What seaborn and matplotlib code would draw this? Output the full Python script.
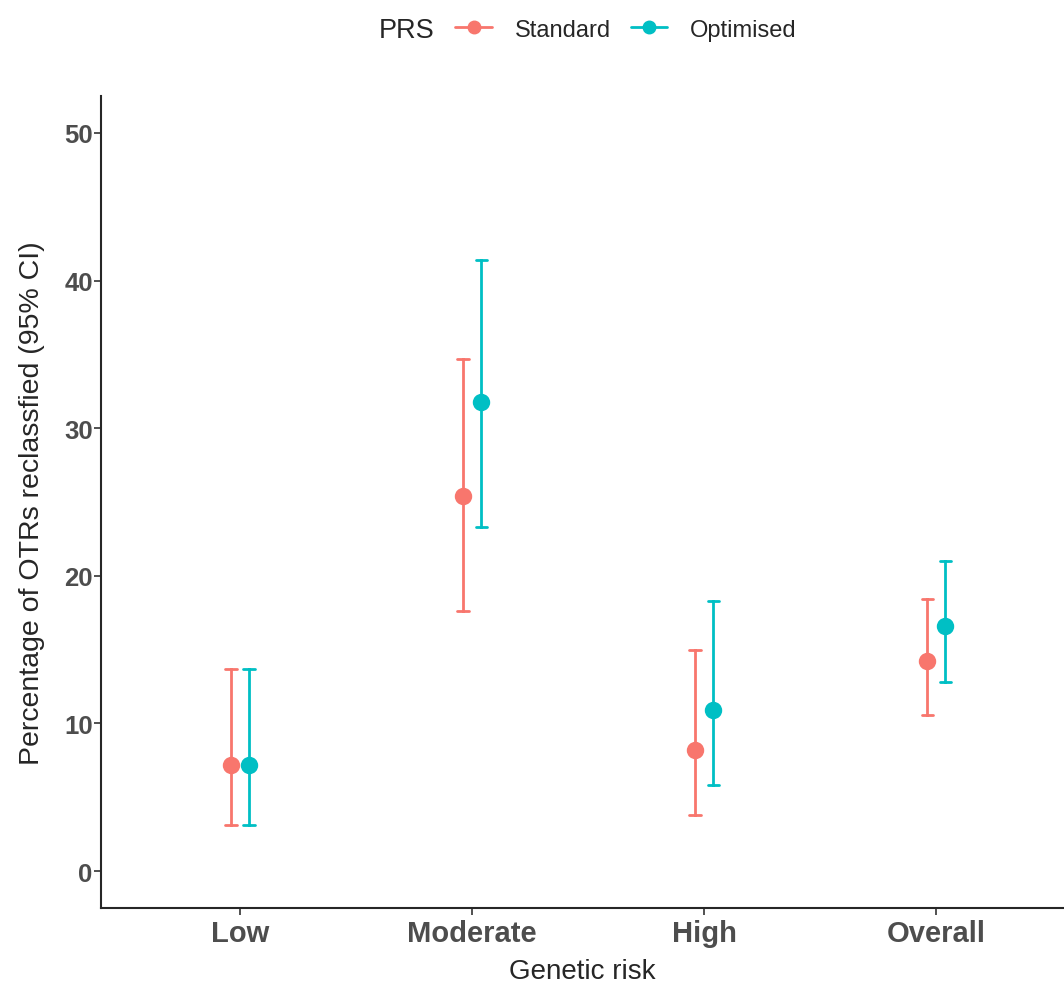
import pandas as pd
import numpy as np
import seaborn as sns
import matplotlib.pyplot as plt
from matplotlib.lines import Line2D

sns.set_style("ticks")
plt.rcParams['font.family'] = ['Liberation Sans', 'DejaVu Sans']

# values
risk = ["Low", "Moderate", "High", "Overall"]
prs = ["Standard", "Optimised"]
std_est = [7.2, 25.4, 8.2, 14.2]
std_lo = [3.1, 17.6, 3.8, 10.6]
std_hi = [13.7, 34.7, 15.0, 18.4]
opt_est = [7.2, 31.8, 10.9, 16.6]
opt_lo = [3.1, 23.3, 5.8, 12.8]
opt_hi = [13.7, 41.4, 18.3, 21.0]

# long table: lo / estimate / hi per group, median = estimate, 100% interval = CI
rows = []
for name, est, lo, hi in [("Standard", std_est, std_lo, std_hi),
                          ("Optimised", opt_est, opt_lo, opt_hi)]:
    for r, e, l, h in zip(risk, est, lo, hi):
        for v in (l, e, h):
            rows.append({"risk": r, "PRS": name, "pct": v})
df = pd.DataFrame(rows)

palette = {"Standard": "#F8766D", "Optimised": "#00BFC4"}

fig = plt.figure(figsize=(10.64, 9.87), dpi=100)
ax = fig.add_axes([0.0949, 0.079, 0.9051, 0.8227])

sns.pointplot(data=df, x="risk", y="pct", hue="PRS", order=risk, hue_order=prs,
              palette=palette, estimator="median", errorbar=("pi", 100),
              dodge=0.078, linestyle="none", markers="o", markersize=10.5,
              capsize=0.05, err_kws={"linewidth": 2}, ax=ax, legend=False)

ax.set_xlim(-0.6, 3.55)
ax.set_ylim(-2.5, 52.5)
ax.set_yticks([0, 10, 20, 30, 40, 50])

ax.set_xlabel("Genetic risk", fontsize=20, labelpad=8)
ax.set_ylabel("Percentage of OTRs reclassfied (95% CI)", fontsize=20.5, labelpad=14)
ax.tick_params(axis='both', colors='#333333', labelcolor='#4D4D4D',
               length=5, width=1.2, pad=3)
ax.tick_params(axis='x', labelsize=21)
ax.tick_params(axis='y', labelsize=18.5, pad=1)
for lab in ax.get_xticklabels() + ax.get_yticklabels():
    lab.set_fontweight('bold')

sns.despine(ax=ax)
ax.spines['bottom'].set_linewidth(1.5)
ax.spines['left'].set_linewidth(1.5)

handles = [Line2D([], [], color=palette[p], marker="o", markersize=9, linewidth=2)
           for p in prs]
fig.text(0.356, 0.969, "PRS", fontsize=19.5, va="center", ha="left")
fig.legend(handles, prs, loc="center left", bbox_to_anchor=(0.428, 0.969),
           ncol=2, frameon=False, fontsize=17, handlelength=1.55,
           columnspacing=0.85, handletextpad=0.95, borderaxespad=0, borderpad=0)

fig.savefig("out.png", dpi=100)
